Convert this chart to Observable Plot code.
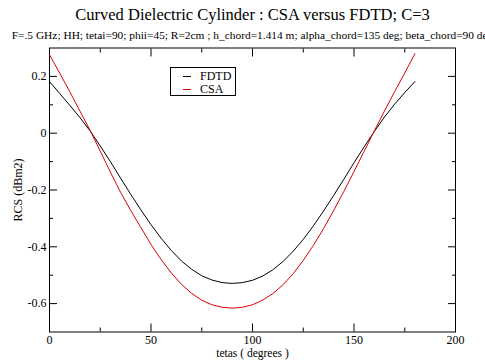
<!DOCTYPE html>
<html>
<head>
<meta charset="utf-8">
<script src="https://cdn.jsdelivr.net/npm/d3@7"></script>
<script src="https://cdn.jsdelivr.net/npm/@observablehq/plot@0.6"></script>
<style>
  html, body { margin: 0; padding: 0; background: #fff; }
  #wrap { position: relative; width: 485px; height: 360px; overflow: hidden; font-family: "Liberation Serif", "Times New Roman", serif; }
  #legend { position: absolute; left: 170px; top: 67px; width: 64px; height: 27px; border: 1px solid #000; background: #fff; font-size: 12px; }
  #legend .row { position: absolute; left: 0; height: 13px; line-height: 13px; }
  #legend .sw { position: absolute; left: 12px; top: 6px; width: 8px; height: 1px; }
  #legend .lbl { position: absolute; left: 29px; top: 0; white-space: nowrap; }
  svg text { font-family: "Liberation Serif", "Times New Roman", serif; }
</style>
</head>
<body>
<div id="wrap"></div>
<script>
// Scattered angle (degrees)
const theta = [0, 5, 10, 15, 20, 25, 30, 35, 40, 45, 50, 55, 60, 65, 70, 75, 80, 85, 90,
               95, 100, 105, 110, 115, 120, 125, 130, 135, 140, 145, 150, 155, 160, 165, 170, 175, 180];

// RCS (dBm2), FDTD reference solution
const fdtd = [0.182, 0.140, 0.098, 0.055, 0.008, -0.045, -0.100, -0.158, -0.215, -0.270,
              -0.322, -0.370, -0.413, -0.450, -0.479, -0.502, -0.517, -0.526, -0.529,
              -0.526, -0.518, -0.503, -0.481, -0.452, -0.416, -0.374, -0.326, -0.274,
              -0.219, -0.162, -0.104, -0.048, 0.006, 0.057, 0.102, 0.143, 0.182];

// RCS (dBm2), CSA approximation
const csa = [0.276, 0.212, 0.146, 0.078, 0.010, -0.063, -0.137, -0.208, -0.272, -0.332,
             -0.392, -0.445, -0.492, -0.532, -0.564, -0.588, -0.604, -0.613, -0.616,
             -0.613, -0.604, -0.588, -0.565, -0.534, -0.495, -0.448, -0.395, -0.336,
             -0.272, -0.205, -0.135, -0.064, 0.008, 0.078, 0.146, 0.212, 0.280];

const seriesNames = ["FDTD", "CSA"];
const seriesColors = ["#000000", "#dd0000"];

const xMajor = [0, 50, 100, 150, 200];
const xMinor = [25, 75, 125, 175];
const yMajor = [-0.6, -0.4, -0.2, 0, 0.2];
const yMinor = [-0.5, -0.3, -0.1, 0.1];

const titleText = "Curved Dielectric Cylinder : CSA versus FDTD; C=3";
const subtitleText = "F=.5 GHz; HH; tetai=90; phii=45; R=2cm ; h_chord=1.414 m; alpha_chord=135 deg; beta_chord=90 deg";
const xLabel = "tetas ( degrees )";
const yLabel = "RCS (dBm2)";

const rowsFdtd = theta.map((t, i) => ({theta: t, rcs: fdtd[i]}));
const rowsCsa = theta.map((t, i) => ({theta: t, rcs: csa[i]}));

const fmt = d => String(d);
const serif = "'Liberation Serif', 'Times New Roman', serif";

const chart = Plot.plot({
  width: 485,
  height: 360,
  marginLeft: 49,
  marginRight: 30,
  marginTop: 47.5,
  marginBottom: 28.5,
  style: {fontFamily: serif, fontSize: "12px", color: "#000", background: "#fff", overflow: "visible"},
  x: {domain: [0, 200]},
  y: {domain: [-0.7, 0.3]},
  marks: [
    // inward ticks on all four sides
    Plot.axisX(xMajor, {anchor: "bottom", tickSize: -8, fill: "none", label: null}),
    Plot.axisX(xMinor, {anchor: "bottom", tickSize: -4, fill: "none", label: null}),
    Plot.axisX(xMajor, {anchor: "top", tickSize: -8, fill: "none", label: null}),
    Plot.axisX(xMinor, {anchor: "top", tickSize: -4, fill: "none", label: null}),
    Plot.axisY(yMajor, {anchor: "left", tickSize: -8, fill: "none", label: null}),
    Plot.axisY(yMinor, {anchor: "left", tickSize: -4, fill: "none", label: null}),
    Plot.axisY(yMajor, {anchor: "right", tickSize: -8, fill: "none", label: null}),
    Plot.axisY(yMinor, {anchor: "right", tickSize: -4, fill: "none", label: null}),
    // tick labels
    Plot.axisX(xMajor, {anchor: "bottom", tickSize: 0, tickPadding: 3, tickFormat: fmt, label: null, fontSize: 12}),
    Plot.axisY(yMajor, {anchor: "left", tickSize: 0, tickPadding: 3, tickFormat: fmt, label: null, fontSize: 12}),
    Plot.frame({stroke: "#000", strokeWidth: 1}),
    // curves
    Plot.line(rowsFdtd, {x: "theta", y: "rcs", stroke: seriesColors[0], strokeWidth: 1}),
    Plot.line(rowsCsa, {x: "theta", y: "rcs", stroke: seriesColors[1], strokeWidth: 1}),
    // axis titles
    Plot.text([xLabel], {text: d => d, frameAnchor: "bottom", lineAnchor: "middle", dy: 21, fontSize: 11.5}),
    Plot.text([yLabel], {text: d => d, frameAnchor: "left", textAnchor: "middle", lineAnchor: "middle", dx: -31, rotate: -90, fontSize: 12}),
    // chart titles
    Plot.text([titleText], {text: d => d, frameAnchor: "top", lineAnchor: "middle", dy: -33, fontSize: 16.5}),
    Plot.text([subtitleText], {text: d => d, frameAnchor: "top", lineAnchor: "middle", dy: -13, fontSize: 11.4})
  ]
});

const wrap = document.getElementById("wrap");
wrap.appendChild(chart);

// legend box
const legend = document.createElement("div");
legend.id = "legend";
seriesNames.forEach((name, i) => {
  const row = document.createElement("div");
  row.className = "row";
  row.style.top = (2 + i * 13) + "px";
  row.style.width = "64px";
  const sw = document.createElement("div");
  sw.className = "sw";
  sw.style.background = seriesColors[i];
  const lbl = document.createElement("div");
  lbl.className = "lbl";
  lbl.textContent = name;
  row.appendChild(sw);
  row.appendChild(lbl);
  legend.appendChild(row);
});
wrap.appendChild(legend);
</script>
</body>
</html>
